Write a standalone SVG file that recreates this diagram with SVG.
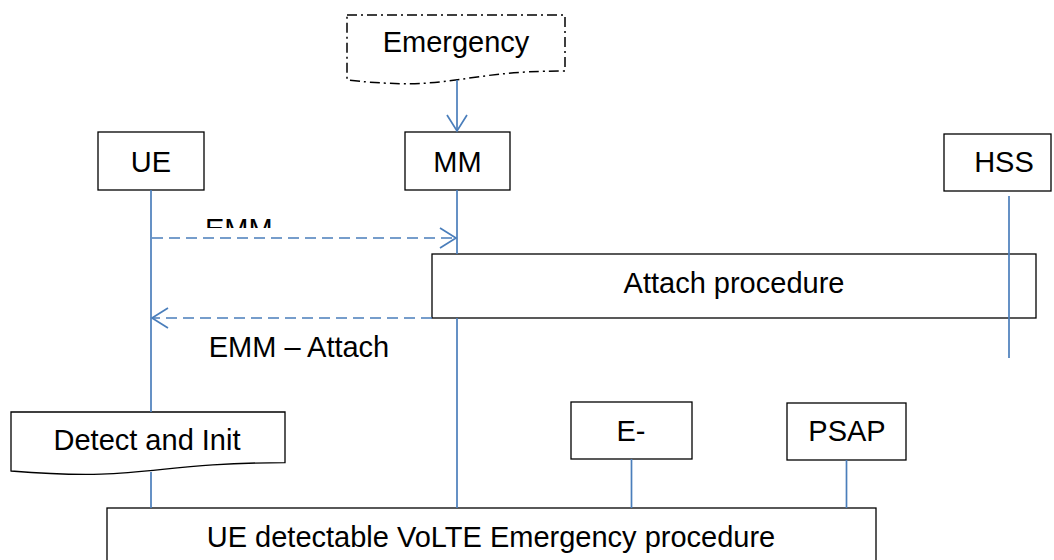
<svg xmlns="http://www.w3.org/2000/svg" width="1054" height="560" viewBox="0 0 1054 560">
<defs>
<style>
.box{fill:#fff;stroke:#000;stroke-width:1.3}
.dd{fill:#fff;stroke:#000;stroke-width:1.5;stroke-dasharray:10 4 2 4}
.t{font-family:"Liberation Sans",Arial,sans-serif;font-size:29px;fill:#000;text-anchor:middle}
.ts{font-family:"Liberation Sans",Arial,sans-serif;font-size:29px;fill:#000;text-anchor:start}
.life{stroke:#4A7EBB;stroke-width:1.7;fill:none}
.msg{stroke:#4A7EBB;stroke-width:1.7;fill:none;stroke-dasharray:11 6}
</style>
<marker id="open" markerUnits="userSpaceOnUse" markerWidth="20" markerHeight="22" viewBox="0 0 20 22" refX="18" refY="11" orient="auto">
<path d="M2,1 L18,11 L2,21" fill="none" stroke="#4A7EBB" stroke-width="1.7" stroke-dasharray="none"/>
</marker>
<clipPath id="clipEMM"><rect x="150" y="200" width="200" height="28"/></clipPath>
</defs>
<rect width="1054" height="560" fill="#fff"/>

<g id="emergency">
<path class="dd" d="M347,15 H565 V71 C456,71 456,92 347,80 Z"/>
<text class="t" x="456" y="52">Emergency</text>
</g>

<g id="ue">
<rect class="box" x="98" y="132" width="106" height="58"/>
<text class="t" x="151" y="171.5">UE</text>
</g>

<g id="mm">
<rect class="box" x="405" y="132" width="105" height="58"/>
<text class="t" x="457.5" y="171.5">MM</text>
</g>

<g id="hss">
<rect class="box" x="944" y="134" width="107" height="57"/>
<text class="t" x="1004" y="172">HSS</text>
</g>

<g id="attach">
<rect class="box" x="432" y="254" width="604" height="64"/>
<text class="t" x="734" y="292.5">Attach procedure</text>
</g>

<g id="detect">
<path class="box" d="M11,412 H285 V462.7 C148,462.7 148,482 11,471 Z"/>
<text class="t" x="147" y="450">Detect and Init</text>
</g>

<g id="e-">
<rect class="box" x="571" y="402" width="121" height="57"/>
<text class="t" x="631" y="440.5">E-</text>
</g>

<g id="psap">
<rect class="box" x="787" y="403" width="119" height="57"/>
<text class="t" x="847" y="440.5">PSAP</text>
</g>

<g id="volte">
<rect class="box" x="107" y="508" width="769" height="70"/>
<text class="t" x="491" y="546.7">UE detectable VoLTE Emergency procedure</text>
</g>

<g id="connectors">
<line class="life" x1="457" y1="80" x2="457" y2="131" marker-end="url(#open)"/>
<line class="life" x1="151" y1="190" x2="151" y2="412"/>
<line class="life" x1="151" y1="472" x2="151" y2="508"/>
<line class="life" x1="457" y1="190" x2="457" y2="254"/>
<line class="life" x1="457" y1="318" x2="457" y2="508"/>
<line class="life" x1="1009" y1="196" x2="1009" y2="358"/>
<line class="life" x1="631.5" y1="459" x2="631.5" y2="508"/>
<line class="life" x1="846.5" y1="460" x2="846.5" y2="508"/>
<line class="msg" x1="152" y1="238" x2="456" y2="238" marker-end="url(#open)"/>
<line class="msg" x1="432" y1="318" x2="152" y2="318" marker-end="url(#open)"/>
<text class="ts" x="205" y="239" clip-path="url(#clipEMM)">EMM</text>
<text class="t" x="299" y="356.7">EMM – Attach</text>
</g>
</svg>
